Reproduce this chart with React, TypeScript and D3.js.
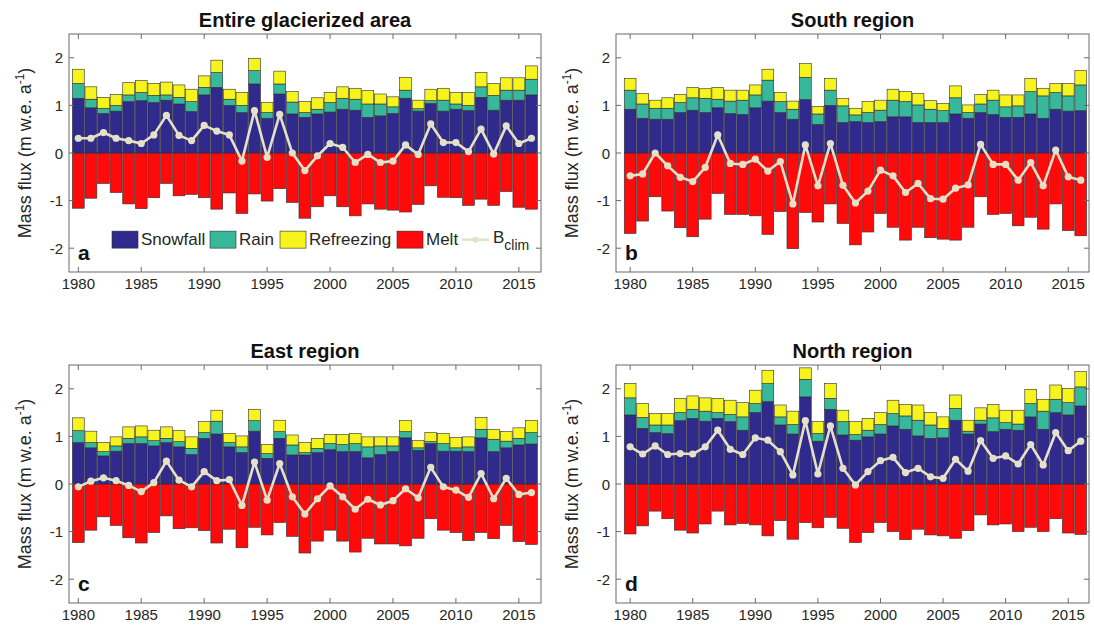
import React from 'react';
import * as d3 from 'd3';

// Hydrological years shown on every panel
const years = [
  1980, 1981, 1982, 1983, 1984, 1985, 1986, 1987, 1988, 1989,
  1990, 1991, 1992, 1993, 1994, 1995, 1996, 1997, 1998, 1999,
  2000, 2001, 2002, 2003, 2004, 2005, 2006, 2007, 2008, 2009,
  2010, 2011, 2012, 2013, 2014, 2015, 2016,
];

const yTicks = [-2, -1, 0, 1, 2];
const xTicks = [1980, 1985, 1990, 1995, 2000, 2005, 2010, 2015];

// Entire glacierized area (m w.e. a-1)
const entireSnowfall = [1.15, 0.95, 0.83, 0.88, 1.08, 1.10, 1.06, 1.11, 1.03, 0.87, 1.22, 1.38, 1.00, 0.85, 1.45, 0.73, 1.24, 0.82, 0.75, 0.82, 0.86, 0.92, 0.90, 0.75, 0.78, 0.83, 1.15, 0.88, 1.04, 0.88, 0.92, 0.89, 1.17, 0.90, 1.11, 1.11, 1.22];
const entireRain = [0.31, 0.18, 0.11, 0.12, 0.14, 0.17, 0.15, 0.11, 0.14, 0.21, 0.16, 0.31, 0.13, 0.15, 0.28, 0.12, 0.21, 0.25, 0.10, 0.10, 0.20, 0.23, 0.23, 0.28, 0.25, 0.14, 0.17, 0.05, 0.06, 0.23, 0.11, 0.11, 0.22, 0.31, 0.21, 0.21, 0.33];
const entireRefreezing = [0.30, 0.26, 0.23, 0.23, 0.26, 0.25, 0.25, 0.27, 0.26, 0.26, 0.24, 0.26, 0.21, 0.27, 0.26, 0.21, 0.27, 0.22, 0.23, 0.24, 0.21, 0.24, 0.23, 0.28, 0.21, 0.21, 0.27, 0.18, 0.24, 0.25, 0.24, 0.27, 0.30, 0.25, 0.26, 0.26, 0.28];
const entireMelt = [-1.16, -0.95, -0.64, -0.83, -1.07, -1.17, -0.94, -0.64, -0.90, -0.87, -0.94, -1.18, -0.84, -1.27, -0.86, -1.01, -0.75, -1.04, -1.37, -1.13, -0.90, -1.13, -1.32, -1.07, -1.18, -1.20, -1.24, -1.08, -0.69, -0.93, -0.94, -1.10, -0.97, -1.10, -0.81, -1.14, -1.18];
const entireBclim = [0.31, 0.31, 0.43, 0.31, 0.26, 0.20, 0.38, 0.79, 0.37, 0.26, 0.58, 0.46, 0.38, -0.17, 0.89, -0.09, 0.81, 0.00, -0.37, -0.06, 0.20, 0.12, -0.20, -0.03, -0.20, -0.17, 0.17, -0.03, 0.61, 0.22, 0.22, 0.03, 0.50, -0.02, 0.57, 0.20, 0.31];

// South region
const southSnowfall = [0.92, 0.73, 0.71, 0.71, 0.85, 0.90, 0.85, 0.95, 0.83, 0.81, 0.95, 1.09, 0.85, 0.71, 1.12, 0.60, 1.00, 0.64, 0.66, 0.64, 0.66, 0.76, 0.76, 0.64, 0.64, 0.64, 0.82, 0.73, 0.85, 0.81, 0.75, 0.75, 0.82, 0.73, 0.92, 0.88, 0.89];
const southRain = [0.40, 0.30, 0.23, 0.23, 0.21, 0.26, 0.30, 0.18, 0.26, 0.30, 0.27, 0.44, 0.23, 0.21, 0.47, 0.22, 0.32, 0.35, 0.14, 0.21, 0.24, 0.35, 0.32, 0.37, 0.28, 0.25, 0.34, 0.12, 0.18, 0.30, 0.22, 0.24, 0.47, 0.47, 0.35, 0.32, 0.54];
const southRefreezing = [0.25, 0.22, 0.17, 0.22, 0.17, 0.22, 0.20, 0.25, 0.23, 0.21, 0.21, 0.23, 0.19, 0.17, 0.29, 0.16, 0.25, 0.16, 0.14, 0.23, 0.21, 0.23, 0.21, 0.24, 0.18, 0.15, 0.25, 0.16, 0.20, 0.21, 0.25, 0.23, 0.28, 0.16, 0.19, 0.26, 0.30];
const southMelt = [-1.69, -1.43, -0.92, -1.22, -1.57, -1.76, -1.39, -0.85, -1.29, -1.29, -1.32, -1.71, -1.23, -2.01, -1.25, -1.45, -1.07, -1.48, -1.93, -1.66, -1.27, -1.56, -1.83, -1.56, -1.78, -1.81, -1.83, -1.56, -0.92, -1.29, -1.27, -1.53, -1.35, -1.60, -1.07, -1.63, -1.74];
const southBclim = [-0.48, -0.44, 0.00, -0.27, -0.51, -0.60, -0.30, 0.38, -0.22, -0.24, -0.13, -0.38, -0.18, -1.07, 0.17, -0.69, 0.20, -0.68, -1.05, -0.80, -0.36, -0.48, -0.83, -0.64, -0.96, -0.97, -0.74, -0.67, 0.18, -0.24, -0.24, -0.57, -0.20, -0.69, 0.06, -0.50, -0.57];

// East region
const eastSnowfall = [0.87, 0.76, 0.59, 0.69, 0.85, 0.85, 0.80, 0.87, 0.78, 0.62, 0.96, 1.05, 0.78, 0.66, 1.11, 0.54, 0.96, 0.61, 0.61, 0.66, 0.72, 0.68, 0.68, 0.55, 0.62, 0.68, 0.97, 0.71, 0.85, 0.69, 0.69, 0.68, 0.97, 0.68, 0.76, 0.82, 0.84];
const eastRain = [0.25, 0.11, 0.09, 0.11, 0.11, 0.14, 0.11, 0.09, 0.11, 0.13, 0.12, 0.27, 0.09, 0.12, 0.22, 0.10, 0.14, 0.21, 0.05, 0.09, 0.13, 0.15, 0.17, 0.23, 0.18, 0.12, 0.13, 0.05, 0.04, 0.16, 0.07, 0.10, 0.18, 0.26, 0.14, 0.14, 0.24];
const eastRefreezing = [0.27, 0.24, 0.19, 0.19, 0.24, 0.23, 0.22, 0.24, 0.23, 0.24, 0.23, 0.23, 0.19, 0.23, 0.24, 0.19, 0.24, 0.21, 0.21, 0.21, 0.19, 0.21, 0.21, 0.21, 0.19, 0.19, 0.23, 0.15, 0.19, 0.21, 0.22, 0.21, 0.25, 0.21, 0.20, 0.22, 0.25];
const eastMelt = [-1.23, -0.97, -0.69, -0.87, -1.13, -1.24, -1.02, -0.67, -0.94, -0.92, -0.98, -1.24, -0.95, -1.34, -0.91, -1.07, -0.81, -1.10, -1.45, -1.20, -0.97, -1.20, -1.43, -1.14, -1.26, -1.26, -1.30, -1.14, -0.73, -0.97, -1.02, -1.19, -1.02, -1.15, -0.87, -1.21, -1.27];
const eastBclim = [-0.06, 0.06, 0.13, 0.07, -0.03, -0.16, 0.03, 0.48, 0.08, -0.06, 0.26, 0.07, 0.09, -0.45, 0.46, -0.34, 0.43, -0.27, -0.63, -0.31, -0.04, -0.27, -0.53, -0.32, -0.44, -0.35, -0.10, -0.29, 0.35, -0.06, -0.13, -0.28, 0.22, -0.31, 0.12, -0.22, -0.18];

// North region
const northSnowfall = [1.45, 1.17, 1.08, 1.06, 1.33, 1.38, 1.32, 1.38, 1.31, 1.13, 1.50, 1.73, 1.24, 1.05, 1.83, 0.90, 1.57, 1.03, 0.92, 0.99, 1.05, 1.22, 1.15, 1.01, 0.96, 0.97, 1.34, 1.05, 1.26, 1.10, 1.15, 1.13, 1.41, 1.15, 1.50, 1.45, 1.64];
const northRain = [0.36, 0.23, 0.16, 0.18, 0.17, 0.19, 0.21, 0.12, 0.15, 0.28, 0.19, 0.38, 0.17, 0.20, 0.37, 0.16, 0.23, 0.28, 0.12, 0.14, 0.20, 0.26, 0.28, 0.33, 0.28, 0.20, 0.25, 0.06, 0.08, 0.29, 0.14, 0.13, 0.28, 0.38, 0.28, 0.26, 0.40];
const northRefreezing = [0.30, 0.29, 0.24, 0.24, 0.30, 0.28, 0.28, 0.30, 0.30, 0.30, 0.28, 0.28, 0.25, 0.28, 0.24, 0.25, 0.31, 0.24, 0.27, 0.25, 0.25, 0.28, 0.24, 0.32, 0.26, 0.24, 0.28, 0.23, 0.26, 0.28, 0.26, 0.29, 0.30, 0.25, 0.30, 0.30, 0.32];
const northMelt = [-1.05, -0.88, -0.57, -0.73, -0.97, -1.03, -0.84, -0.57, -0.86, -0.83, -0.86, -1.09, -0.77, -1.16, -0.81, -0.92, -0.70, -0.93, -1.23, -1.02, -0.81, -1.00, -1.17, -0.95, -1.07, -1.09, -1.14, -0.98, -0.65, -0.86, -0.84, -1.00, -0.91, -1.00, -0.73, -1.03, -1.06];
const northBclim = [0.78, 0.63, 0.80, 0.62, 0.64, 0.63, 0.78, 1.13, 0.73, 0.62, 0.97, 0.92, 0.68, 0.19, 1.33, 0.21, 1.22, 0.33, -0.02, 0.26, 0.49, 0.56, 0.24, 0.33, 0.15, 0.12, 0.52, 0.27, 0.91, 0.54, 0.59, 0.42, 0.83, 0.40, 1.08, 0.70, 0.90];

const COLORS = {
  snowfall: '#302a8c',
  rain: '#37b89b',
  refreezing: '#f6f41c',
  melt: '#ff0a0a',
  bclim: '#e4e1c8',
  edge: '#2e2e2e',
  axis: '#6a6a6a',
  text: '#262626',
};

const FONT = 'Arial, "Liberation Sans", Helvetica, sans-serif';

type PanelSpec = {
  title: string;
  letter: string;
  left: number;
  right: number;
  top: number;
  bottom: number;
  xDomain: [number, number];
  snowfall: number[];
  rain: number[];
  refreezing: number[];
  melt: number[];
  bclim: number[];
  legend?: boolean;
};

const panels: PanelSpec[] = [
  { title: 'Entire glacierized area', letter: 'a', left: 69, right: 541, top: 34, bottom: 272, xDomain: [1979.26, 2016.76], snowfall: entireSnowfall, rain: entireRain, refreezing: entireRefreezing, melt: entireMelt, bclim: entireBclim, legend: true },
  { title: 'South region', letter: 'b', left: 616, right: 1089, top: 34, bottom: 272, xDomain: [1978.87, 2016.66], snowfall: southSnowfall, rain: southRain, refreezing: southRefreezing, melt: southMelt, bclim: southBclim },
  { title: 'East region', letter: 'c', left: 69, right: 541, top: 365, bottom: 603, xDomain: [1979.26, 2016.76], snowfall: eastSnowfall, rain: eastRain, refreezing: eastRefreezing, melt: eastMelt, bclim: eastBclim },
  { title: 'North region', letter: 'd', left: 616, right: 1089, top: 365, bottom: 603, xDomain: [1978.87, 2016.66], snowfall: northSnowfall, rain: northRain, refreezing: northRefreezing, melt: northMelt, bclim: northBclim },
];

const stackKeys = ['snowfall', 'rain', 'refreezing'] as const;

function Legend({ left, y }: { left: number; y: number }) {
  const items = [
    { key: 'snowfall', label: 'Snowfall', x: left + 43 },
    { key: 'rain', label: 'Rain', x: left + 141 },
    { key: 'refreezing', label: 'Refreezing', x: left + 211 },
    { key: 'melt', label: 'Melt', x: left + 328 },
  ];
  const pw = 26;
  const ph = 17;
  const lineX = left + 393;
  return (
    <g>
      {items.map((it) => (
        <g key={it.key}>
          <rect x={it.x} y={y - ph / 2} width={pw} height={ph} fill={(COLORS as any)[it.key]} stroke={COLORS.edge} strokeWidth={0.6} />
          <text x={it.x + pw + 3} y={y} dominantBaseline="central" fontSize={17} fill={COLORS.text}>{it.label}</text>
        </g>
      ))}
      <line x1={lineX} x2={lineX + 27} y1={y} y2={y} stroke={COLORS.bclim} strokeWidth={2.5} />
      <circle cx={lineX + 13.5} cy={y} r={3} fill={COLORS.bclim} />
      <text x={lineX + 31} y={y - 2} dominantBaseline="central" fontSize={17} fill={COLORS.text}>
        B<tspan fontSize={14} dy={7}>clim</tspan>
      </text>
    </g>
  );
}

function Panel({ p }: { p: PanelSpec }) {
  const x = d3.scaleLinear().domain(p.xDomain).range([p.left, p.right]);
  const y = d3.scaleLinear().domain([-2.5, 2.5]).range([p.bottom, p.top]);
  const rows = years.map((yr, i) => ({
    year: yr,
    snowfall: p.snowfall[i],
    rain: p.rain[i],
    refreezing: p.refreezing[i],
  }));
  const series = d3.stack<any>().keys(stackKeys as unknown as string[])(rows);
  const bw = (x(1981) - x(1980)) * 0.94;
  const line = d3
    .line<number>()
    .x((_, i) => x(years[i]))
    .y((d) => y(d));
  const tick = 5;
  const midY = (p.top + p.bottom) / 2;
  const labelX = p.left - 38;

  return (
    <g fontFamily={FONT}>
      {/* melt below zero */}
      {p.melt.map((m, i) => (
        <rect
          key={`m${i}`}
          x={x(years[i]) - bw / 2}
          y={y(0)}
          width={bw}
          height={y(m) - y(0)}
          fill={COLORS.melt}
          stroke={COLORS.edge}
          strokeWidth={0.6}
        />
      ))}
      {/* accumulation stack above zero */}
      {series.map((s) => (
        <g key={s.key} fill={(COLORS as any)[s.key]}>
          {s.map((d, i) => (
            <rect
              key={i}
              x={x(years[i]) - bw / 2}
              y={y(d[1])}
              width={bw}
              height={y(d[0]) - y(d[1])}
              stroke={COLORS.edge}
              strokeWidth={0.6}
            />
          ))}
        </g>
      ))}
      {/* climatic mass balance */}
      <path d={line(p.bclim) || ''} fill="none" stroke={COLORS.bclim} strokeWidth={2.6} strokeLinejoin="round" />
      {p.bclim.map((b, i) => (
        <circle key={`b${i}`} cx={x(years[i])} cy={y(b)} r={3.6} fill={COLORS.bclim} />
      ))}

      {/* axes box */}
      <rect x={p.left} y={p.top} width={p.right - p.left} height={p.bottom - p.top} fill="none" stroke={COLORS.axis} strokeWidth={1} />
      {xTicks.map((t) => (
        <g key={`xt${t}`}>
          <line x1={x(t)} x2={x(t)} y1={p.bottom} y2={p.bottom - tick} stroke={COLORS.axis} />
          <line x1={x(t)} x2={x(t)} y1={p.top} y2={p.top + tick} stroke={COLORS.axis} />
          <text x={x(t)} y={p.bottom + 17} textAnchor="middle" fontSize={15} fill={COLORS.text}>{t}</text>
        </g>
      ))}
      {yTicks.map((t) => (
        <g key={`yt${t}`}>
          <line x1={p.left} x2={p.left + tick} y1={y(t)} y2={y(t)} stroke={COLORS.axis} />
          <line x1={p.right} x2={p.right - tick} y1={y(t)} y2={y(t)} stroke={COLORS.axis} />
          <text x={p.left - 6} y={y(t)} textAnchor="end" dominantBaseline="central" fontSize={15} fill={COLORS.text}>{t}</text>
        </g>
      ))}

      <text
        transform={`translate(${labelX},${midY}) rotate(-90)`}
        textAnchor="middle"
        fontSize={18}
        fill={COLORS.text}
      >
        Mass flux (m w.e. a<tspan fontSize={12} dy={-7}>-1</tspan><tspan dy={7}>)</tspan>
      </text>

      <text x={(p.left + p.right) / 2} y={p.top - 7} textAnchor="middle" fontSize={20} fontWeight="bold" fill="#111">
        {p.title}
      </text>
      <text x={p.left + 9} y={p.bottom - 12} fontSize={21} fontWeight="bold" fill="#111">
        {p.letter}
      </text>

      {p.legend && <Legend left={p.left} y={y(-1.82)} />}
    </g>
  );
}

export default function App() {
  return (
    <svg
      width={1094}
      height={635}
      viewBox="0 0 1094 635"
      style={{ position: 'absolute', left: 0, top: 0, background: '#fff', display: 'block' }}
    >
      <rect width={1094} height={635} fill="#fff" />
      {panels.map((p) => (
        <Panel key={p.letter} p={p} />
      ))}
    </svg>
  );
}
